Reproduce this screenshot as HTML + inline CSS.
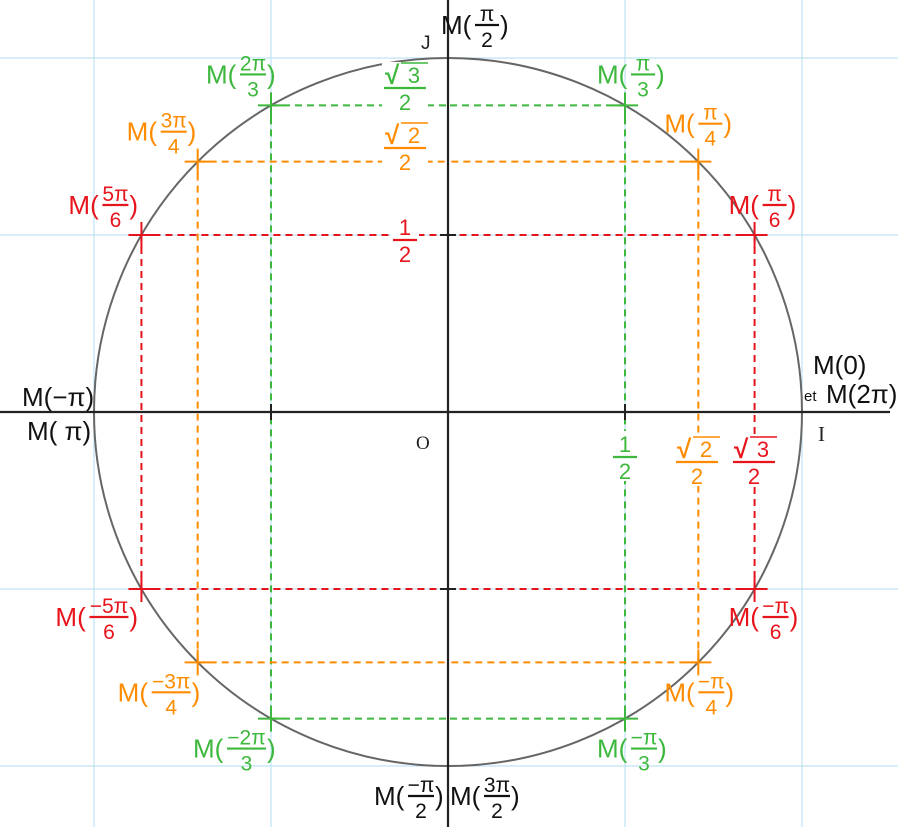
<!DOCTYPE html>
<html><head><meta charset="utf-8"><style>
html,body{margin:0;padding:0;background:#fff;}
svg{display:block;font-family:"Liberation Sans","DejaVu Sans",sans-serif;}
</style></head><body>
<svg id="chart" width="898" height="827" viewBox="0 0 898 827" xmlns="http://www.w3.org/2000/svg"></svg>
<script>
// data
const angleDeg = [30, 45, 60, 150, 135, 120, -30, -45, -60, -150, -135, -120];
const numLabels = ["π","π","π","5π","3π","2π","−π","−π","−π","−5π","−3π","−2π"];
const denLabels = ["6","4","3","6","4","3","6","4","3","6","4","3"];
const seriesColor = ["#e8141c","#ff8c00","#3cb83c","#e8141c","#ff8c00","#3cb83c","#e8141c","#ff8c00","#3cb83c","#e8141c","#ff8c00","#3cb83c"];
const gridTicks = [-1, -0.5, 0.5, 1];
const cx = 448, cy = 412, R = 354;
const sx = v => cx + v * R, sy = v => cy - v * R;
const svg = document.getElementById('chart');
const NS = "http://www.w3.org/2000/svg";
function el(tag, attrs, parent) {
  const e = document.createElementNS(NS, tag);
  for (const k in attrs) e.setAttribute(k, attrs[k]);
  (parent || svg).appendChild(e);
  return e;
}
// grid
gridTicks.forEach(t => {
  const g1 = el('line', {x1: sx(t), y1: 0, x2: sx(t), y2: 827, stroke: '#bfe3f5', 'stroke-width': 1.2});
  
  
  const g2 = el('line', {x1: 0, y1: sy(t), x2: 898, y2: sy(t), stroke: '#bfe3f5', 'stroke-width': 1.2});
  
  
});
// dashed projection lines
angleDeg.forEach((a, i) => {
  const r = a * Math.PI / 180, x = sx(Math.cos(r)), y = sy(Math.sin(r));
  const h = el('line', {x1: x, y1: y, x2: cx, y2: y, stroke: seriesColor[i], 'stroke-width': 2, 'stroke-dasharray': '7,5'});
  
  
  if (a > 0) {
    const v = el('line', {x1: x, y1: y, x2: x, y2: sy(-Math.sin(r)), stroke: seriesColor[i], 'stroke-width': 2, 'stroke-dasharray': '7,5'});
    
    
  }
});
// circle
const circ = el('circle', {cx: cx, cy: cy, r: R, fill: 'none', stroke: '#666', 'stroke-width': 2});


// axes
const ax = el('line', {x1: 0, y1: cy, x2: 890, y2: cy, stroke: '#222', 'stroke-width': 2.2});


const ay = el('line', {x1: cx, y1: 0, x2: cx, y2: 827, stroke: '#222', 'stroke-width': 2.2});


[-0.5, 0.5].forEach(t => {
  const t1 = el('line', {x1: sx(t), y1: cy - 8, x2: sx(t), y2: cy + 8, stroke: '#222', 'stroke-width': 2});
  
  
  const t2 = el('line', {x1: cx - 8, y1: sy(t), x2: cx + 8, y2: sy(t), stroke: '#222', 'stroke-width': 2});
  
  
});
// crosses
angleDeg.forEach((a, i) => {
  const r = a * Math.PI / 180, x = sx(Math.cos(r)), y = sy(Math.sin(r));
  const g = el('path', {d: `M${x-13} ${y}H${x+13}M${x} ${y-13}V${y+13}`, stroke: seriesColor[i], 'stroke-width': 2, fill: 'none'});
  
  
});
function txt(x, y, s, col, size, anchor, parent) {
  const t = el('text', {x: x, y: y, fill: col, 'font-size': size, 'text-anchor': anchor || 'start'}, parent);
  t.textContent = s;
  return t;
}
// fraction centered at x, bar at y
function frac(x, y, num, den, col, w, parent, sqrt) {
  el('rect', {x: x - w/2 - 2, y: y - 26, width: w + 4, height: 50, fill: '#fff'}, parent);
  if (sqrt) {
    txt(x - w/2 + 1, y - 4, '√', col, 26, 'start', parent).setAttribute('font-weight', 'bold');
    el('line', {x1: x - w/2 + 17, y1: y - 25, x2: x + w/2 + 2, y2: y - 25, stroke: col, 'stroke-width': 1.5}, parent);
    txt(x + 9, y - 5, num, col, 22, 'middle', parent);
  } else txt(x, y - 5, num, col, 22, 'middle', parent);
  el('line', {x1: x - w/2, y1: y, x2: x + w/2, y2: y, stroke: col, 'stroke-width': 2.2}, parent);
  txt(x, y + 22, den, col, 22, 'middle', parent);
}
// point labels M(frac)
function mlabel(x, y, num, den, col, name) {
  const g = el('g', {});
  
  
  txt(x, y + 9, 'M(', col, 26, 'start', g);
  const fw = Math.max(24, num.length * 13);
  const fx = x + 34 + fw / 2;
  txt(fx, y - 4, num, col, 21, 'middle', g);
  el('line', {x1: fx - fw/2, y1: y, x2: fx + fw/2, y2: y, stroke: col, 'stroke-width': 2.2}, g);
  txt(fx, y + 22, den, col, 21, 'middle', g);
  txt(fx + fw/2 + 1, y + 9, ')', col, 26, 'start', g);
}
angleDeg.forEach((a, i) => {
  const r = a * Math.PI / 180, x = sx(Math.cos(r)), y = sy(Math.sin(r));
  const fw = Math.max(24, numLabels[i].length * 13);
  const w = 34 + fw + 9;
  let lx, ly;
  if (Math.cos(r) > 0) lx = x - 28; else lx = x - w + 4;
  if (Math.abs(a) === 60) lx = Math.cos(r) > 0 ? x - 28 : x - w + 6;
  if (Math.abs(a) === 30 || Math.abs(a) === 150) lx = Math.cos(r) > 0 ? x - 26 : x - w - 4;
  ly = a > 0 ? y - 28 : y + 28;
  if (a === 45) { lx = x - 34; ly = y - 38; }
  if (a === 135) { lx = x - w - 2; ly = y - 30; }
  if (a === 30 || a === 150) ly = y - 30;
  if (a === -30 || a === -150) ly = y + 28;
  if (a === -45) { lx = x - 34; ly = y + 30; }
  if (a === -135) { lx = x - w + 2; ly = y + 30; }
  if (a === 60 || a === 120) ly = y - 31;
  if (a === -60 || a === -120) ly = y + 30;
  mlabel(lx, ly, numLabels[i], denLabels[i], seriesColor[i], 'point-label');
});
// axis value labels
const axg = el('g', {});


frac(405, 88, '3', '2', '#3cb83c', 42, axg, true);
frac(405, 148, '2', '2', '#ff8c00', 42, axg, true);
frac(405, 240, '1', '2', '#e8141c', 24, axg, false);
frac(625, 457, '1', '2', '#3cb83c', 24, axg, false);
frac(697, 462, '2', '2', '#ff8c00', 42, axg, true);
frac(754, 462, '3', '2', '#e8141c', 42, axg, true);
// black labels
const bg = el('g', {});


txt(421, 49, 'J', '#222', 19, 'start', bg);
txt(416, 449, 'O', '#222', 19, 'start', bg).setAttribute('font-family', 'Liberation Serif, serif');
txt(818, 441, 'I', '#222', 21, 'start', bg).setAttribute('font-family', 'Liberation Serif, serif');
mlabel(441, 25, 'π', '2', '#111', 'label-pi-over-2');
txt(813, 374, 'M(0)', '#111', 26, 'start', bg);
txt(804, 401, 'et', '#111', 15, 'start', bg);
txt(826, 403, 'M(2π)', '#111', 26, 'start', bg);
txt(22, 406, 'M(−π)', '#111', 26, 'start', bg);
txt(27, 440, 'M( π)', '#111', 26, 'start', bg);
mlabel(374, 796, '−π', '2', '#111', 'label-minus-pi-over-2');
mlabel(450, 796, '3π', '2', '#111', 'label-3pi-over-2');
</script>
</body></html>
